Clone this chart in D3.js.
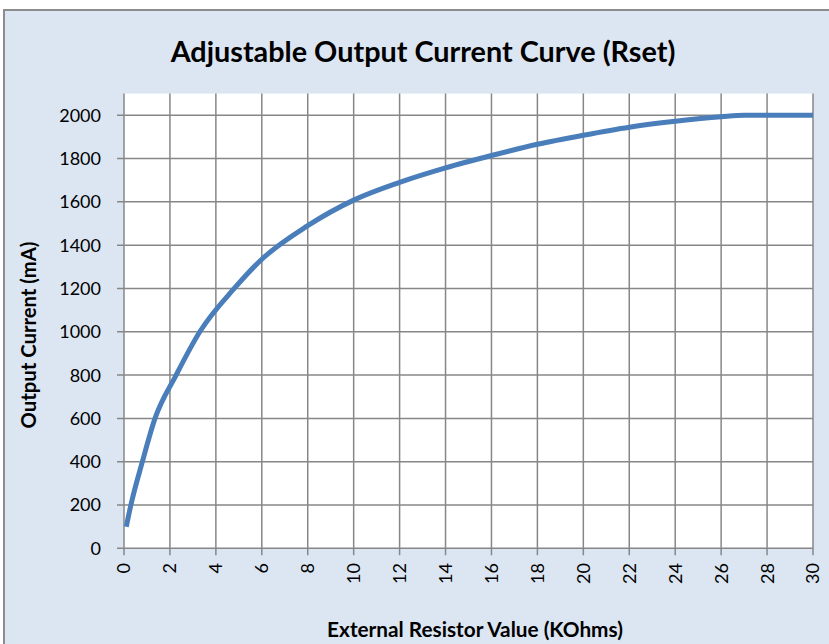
<!DOCTYPE html>
<html>
<head>
<meta charset="utf-8">
<script src="https://cdn.jsdelivr.net/npm/d3@7"></script>
<style>
  html, body { margin: 0; padding: 0; background: #ffffff; }
  svg { display: block; }
  text { font-family: Lato, "Open Sans", "DejaVu Sans", sans-serif; fill: #000; }
</style>
</head>
<body>
<svg id="chart" width="829" height="644"></svg>
<script>
// ---- data ----
const resistorKOhm = [0.1, 0.3, 0.8, 1.35, 2.27, 3.3, 4.8, 6, 8, 10, 12, 14, 16, 18, 20, 22, 24, 26, 27, 30];
const currentMA    = [100, 200, 400, 600, 800, 1000, 1200, 1335, 1490, 1608, 1690, 1757, 1814, 1866, 1908, 1945, 1972, 1993, 2000, 2000];
const xTicks = [0, 2, 4, 6, 8, 10, 12, 14, 16, 18, 20, 22, 24, 26, 28, 30];
const yTicks = [0, 200, 400, 600, 800, 1000, 1200, 1400, 1600, 1800, 2000];
const titleText = "Adjustable Output Current Curve (Rset)";
const xTitle = "External Resistor Value (KOhms)";
const yTitle = "Output Current (mA)";

(function () {
const svg = d3.select("#chart");

// chart area background
svg.append("rect")
  .attr("x", 4).attr("y", 10).attr("width", 840).attr("height", 650)
  .attr("fill", "#dce6f2").attr("stroke", "#8c8c8c").attr("stroke-width", 2);

const pLeft = 124, pRight = 813, pTop = 93.6, pBottom = 548.3;
const x = d3.scaleLinear().domain([0, 30]).range([pLeft, pRight]);
const y = d3.scaleLinear().domain([0, 2100]).range([pBottom, pTop]);

// plot area
svg.append("rect")
  .attr("x", pLeft).attr("y", pTop).attr("width", pRight - pLeft).attr("height", pBottom - pTop)
  .attr("fill", "#ffffff");

const gridColor = "#878787";
// vertical grid
svg.append("g").selectAll("line").data(xTicks).join("line")
  .attr("x1", d => x(d)).attr("x2", d => x(d))
  .attr("y1", pTop).attr("y2", pBottom + 7)
  .attr("stroke", gridColor).attr("stroke-width", 1.5);
// horizontal grid
svg.append("g").selectAll("line").data(yTicks).join("line")
  .attr("x1", pLeft - 7).attr("x2", pRight)
  .attr("y1", d => y(d)).attr("y2", d => y(d))
  .attr("stroke", gridColor).attr("stroke-width", 1.5);

// y tick labels
svg.append("g").selectAll("text").data(yTicks).join("text")
  .attr("x", 101).attr("y", d => y(d))
  .attr("dy", "0.36em")
  .attr("text-anchor", "end")
  .attr("font-size", 18)
  .text(d => d);

// x tick labels (rotated)
svg.append("g").selectAll("text").data(xTicks).join("text")
  .attr("transform", d => `translate(${x(d)},563) rotate(-90)`)
  .attr("dy", "0.36em")
  .attr("text-anchor", "end")
  .attr("font-size", 18)
  .text(d => d);

// curve
const line = d3.line()
  .x((d, i) => x(resistorKOhm[i]))
  .y(d => y(d))
  .curve(d3.curveMonotoneX);
svg.append("path")
  .datum(currentMA)
  .attr("d", line)
  .attr("fill", "none")
  .attr("stroke", "#4a7ebb")
  .attr("stroke-width", 5)
  .attr("stroke-linejoin", "round");

function fitText(sel, target) {
  const w = sel.node().getComputedTextLength();
  const fs = parseFloat(sel.attr("font-size"));
  sel.attr("font-size", fs * target / w);
}

// title
const t = svg.append("text")
  .attr("x", 423).attr("y", 62)
  .attr("text-anchor", "middle")
  .attr("font-weight", "bold")
  .attr("font-size", 24)
  .text(titleText);
fitText(t, 505);

// x title
const xt = svg.append("text")
  .attr("x", 475).attr("y", 637)
  .attr("text-anchor", "middle")
  .attr("font-weight", "bold")
  .attr("font-size", 17)
  .text(xTitle);
fitText(xt, 296);

// y title
const yt = svg.append("text")
  .attr("transform", "translate(36,335) rotate(-90)")
  .attr("text-anchor", "middle")
  .attr("font-weight", "bold")
  .attr("font-size", 17)
  .text(yTitle);
fitText(yt, 187);
})();
</script>
</body>
</html>
